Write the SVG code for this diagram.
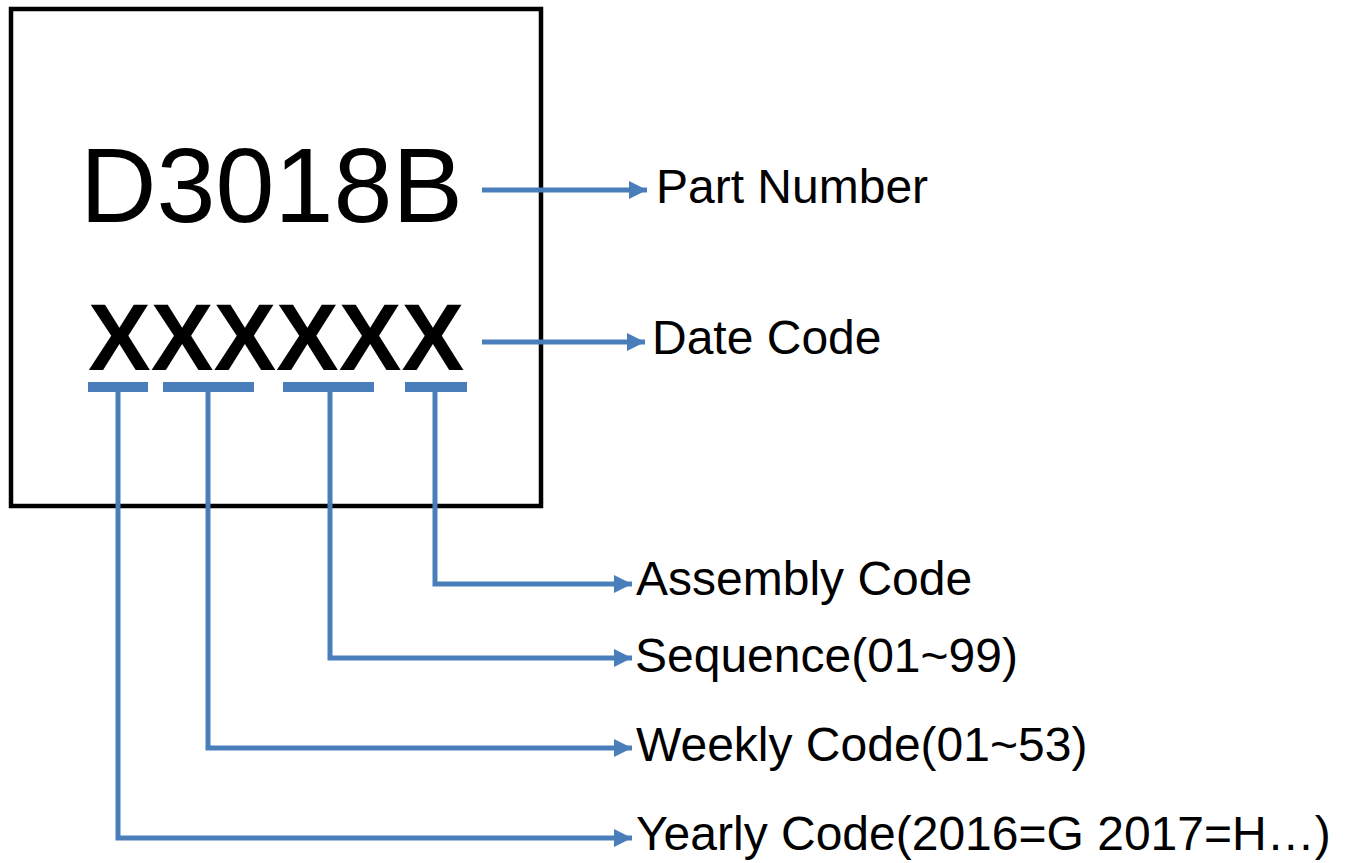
<svg xmlns="http://www.w3.org/2000/svg" width="1347" height="863" viewBox="0 0 1347 863">
<style>
.lbl{font-family:"Liberation Sans",Arial,sans-serif;font-size:48px;fill:#000}
.big{font-family:"Liberation Sans",Arial,sans-serif;fill:#000}
.conn{fill:none;stroke:#4A7EBB;stroke-width:5}
.bar{fill:#4A7EBB}
</style>
<defs>
<marker id="ah" markerUnits="userSpaceOnUse" markerWidth="18" markerHeight="18" refX="18" refY="9" orient="auto">
<path d="M0,0 L18,9 L0,18 Z" fill="#4A7EBB"/>
</marker>
</defs>
<rect x="0" y="0" width="1347" height="863" fill="#fff"/>
<g id="chip">
<rect x="11" y="9" width="530" height="497" fill="#fff" stroke="#000" stroke-width="4.5"/>
</g>
<g id="part-number-mark">
<text class="big" x="80" y="222" font-size="106">D3018B</text>
</g>
<g id="date-code-mark">
<text class="big" x="88" y="370" font-size="94" font-weight="bold">XXXXXX</text>
<rect class="bar" x="88" y="382" width="60" height="10"/>
<rect class="bar" x="163" y="382" width="91" height="10"/>
<rect class="bar" x="283" y="382" width="91" height="10"/>
<rect class="bar" x="405" y="382" width="62" height="10"/>
</g>
<g id="connectors">
<path class="conn" d="M482,190 H647" marker-end="url(#ah)"/>
<path class="conn" d="M482,342 H645" marker-end="url(#ah)"/>
<path class="conn" d="M435,392 V584 H632" marker-end="url(#ah)"/>
<path class="conn" d="M330,392 V658 H632" marker-end="url(#ah)"/>
<path class="conn" d="M208,392 V748 H632" marker-end="url(#ah)"/>
<path class="conn" d="M118,392 V838 H632" marker-end="url(#ah)"/>
</g>
<g id="label-part-number"><text class="lbl" x="656" y="203">Part Number</text></g>
<g id="label-date-code"><text class="lbl" x="652" y="354">Date Code</text></g>
<g id="label-assembly"><text class="lbl" x="636" y="595">Assembly Code</text></g>
<g id="label-sequence"><text class="lbl" x="635" y="672">Sequence(01~99)</text></g>
<g id="label-weekly"><text class="lbl" x="636" y="761">Weekly Code(01~53)</text></g>
<g id="label-yearly"><text class="lbl" x="636" y="850">Yearly Code(2016=G 2017=H…)</text></g>
</svg>
